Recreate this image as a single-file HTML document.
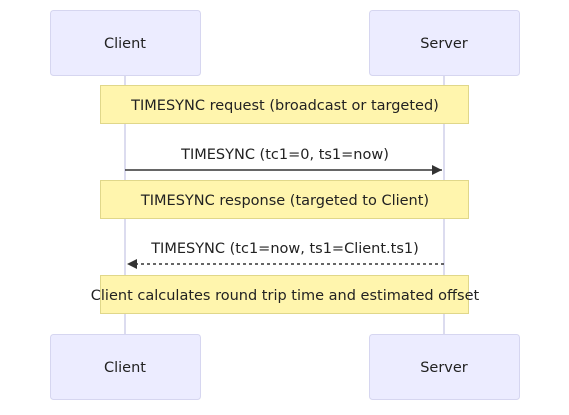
<!DOCTYPE html>
<html><head><style>
html,body{margin:0;padding:0;background:#fff;}
svg text{font-family:"DejaVu Sans","Liberation Sans",sans-serif;font-size:14.5px;fill:#222;}
</style></head><body>
<svg width="569" height="410" viewBox="0 0 569 410" xmlns="http://www.w3.org/2000/svg">
<defs>
<marker id="a" markerWidth="12" markerHeight="12" refX="10" refY="5" orient="auto" markerUnits="userSpaceOnUse"><path d="M0,0 L10,5 L0,10 z" fill="#333"/></marker>
</defs>
<line x1="125" y1="75" x2="125" y2="334" stroke="#d0d0ea" stroke-width="1.5"/>
<line x1="444" y1="75" x2="444" y2="334" stroke="#d0d0ea" stroke-width="1.5"/>
<rect x="50.5" y="10.5" width="150" height="65" rx="3" fill="#ececff" stroke="#d6d6f0"/>
<rect x="369.5" y="10.5" width="150" height="65" rx="3" fill="#ececff" stroke="#d6d6f0"/>
<rect x="50.5" y="334.5" width="150" height="65" rx="3" fill="#ececff" stroke="#d6d6f0"/>
<rect x="369.5" y="334.5" width="150" height="65" rx="3" fill="#ececff" stroke="#d6d6f0"/>
<text x="125" y="48" text-anchor="middle">Client</text>
<text x="444" y="48" text-anchor="middle">Server</text>
<text x="125" y="372" text-anchor="middle">Client</text>
<text x="444" y="372" text-anchor="middle">Server</text>
<rect x="100.5" y="85.5" width="368" height="38" fill="#fff5ad" stroke="#e0d78a"/>
<text x="285" y="110" text-anchor="middle">TIMESYNC request (broadcast or targeted)</text>
<text x="285" y="159" text-anchor="middle">TIMESYNC (tc1=0, ts1=now)</text>
<line x1="125" y1="170" x2="442" y2="170" stroke="#333" stroke-width="1.5" marker-end="url(#a)"/>
<rect x="100.5" y="180.5" width="368" height="38" fill="#fff5ad" stroke="#e0d78a"/>
<text x="285" y="205" text-anchor="middle">TIMESYNC response (targeted to Client)</text>
<text x="285" y="253" text-anchor="middle">TIMESYNC (tc1=now, ts1=Client.ts1)</text>
<line x1="444" y1="264" x2="127" y2="264" stroke="#333" stroke-width="1.5" stroke-dasharray="3,3" marker-end="url(#a)"/>
<rect x="100.5" y="275.5" width="368" height="38" fill="#fff5ad" stroke="#e0d78a"/>
<text x="285" y="300" text-anchor="middle">Client calculates round trip time and estimated offset</text>
</svg>
</body></html>
